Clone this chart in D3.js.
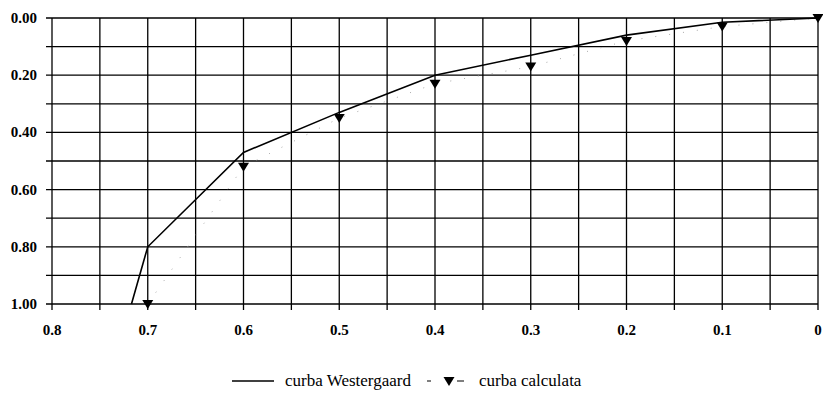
<!DOCTYPE html>
<html>
<head>
<meta charset="utf-8">
<script src="https://cdn.jsdelivr.net/npm/d3@7"></script>
<style>
  html, body { margin: 0; padding: 0; background: #fff; }
  svg { display: block; }
</style>
</head>
<body>
<svg id="chart" width="823" height="412"></svg>
<script>
// Westergaard curve (x = relative stress, y = depth ratio)
const westX = [0.717, 0.7, 0.6, 0.5, 0.4, 0.3, 0.2, 0.1, 0];
const westY = [1.0, 0.80, 0.47, 0.33, 0.20, 0.13, 0.06, 0.015, 0];

// Calculated curve
const calcX = [0.7, 0.6, 0.5, 0.4, 0.3, 0.2, 0.1, 0];
const calcY = [1.0, 0.52, 0.35, 0.23, 0.17, 0.08, 0.03, 0.0];

// Axis ticks and labels
const xTicks = [0.8, 0.7, 0.6, 0.5, 0.4, 0.3, 0.2, 0.1, 0];
const xLabels = ["0.8", "0.7", "0.6", "0.5", "0.4", "0.3", "0.2", "0.1", "0"];
const xGrid = [0.8, 0.75, 0.7, 0.65, 0.6, 0.55, 0.5, 0.45, 0.4, 0.35, 0.3, 0.25, 0.2, 0.15, 0.1, 0.05, 0];
const yTicks = [0, 0.2, 0.4, 0.6, 0.8, 1.0];
const yLabels = ["0.00", "0.20", "0.40", "0.60", "0.80", "1.00"];
const yGrid = [0, 0.1, 0.2, 0.3, 0.4, 0.5, 0.6, 0.7, 0.8, 0.9, 1.0];

const legendNames = ["curba Westergaard", "curba calculata"];

const svg = d3.select("#chart");
const plotLeft = 52, plotRight = 818, plotTop = 18, plotBottom = 304;

const x = d3.scaleLinear().domain([0.8, 0]).range([plotLeft, plotRight]);
const y = d3.scaleLinear().domain([0, 1]).range([plotTop, plotBottom]);

const serif = '"Liberation Serif", "Times New Roman", serif';

// grid
const grid = svg.append("g").attr("stroke", "#000").attr("stroke-width", 1.3);
grid.selectAll("line.v").data(xGrid).join("line")
  .attr("x1", d => x(d)).attr("x2", d => x(d))
  .attr("y1", plotTop).attr("y2", plotBottom + 6);
grid.selectAll("line.h").data(yGrid).join("line")
  .attr("x1", plotLeft - 6).attr("x2", plotRight)
  .attr("y1", d => y(d)).attr("y2", d => y(d));

// y labels
svg.append("g").selectAll("text").data(yTicks).join("text")
  .attr("x", 37).attr("y", d => y(d) + 5)
  .attr("text-anchor", "end")
  .style("font-family", serif).style("font-weight", "bold").style("font-size", "15px")
  .text((d, i) => yLabels[i]);

// x labels
svg.append("g").selectAll("text").data(xTicks).join("text")
  .attr("x", d => x(d)).attr("y", 335)
  .attr("text-anchor", "middle")
  .style("font-family", serif).style("font-weight", "bold").style("font-size", "15px")
  .text((d, i) => xLabels[i]);

// calculated curve: faint dotted connector
const calcPts = calcX.map((v, i) => [v, calcY[i]]);
svg.append("path")
  .datum(calcPts)
  .attr("fill", "none").attr("stroke", "#aaa").attr("stroke-width", 1)
  .attr("stroke-dasharray", "1,13")
  .attr("d", d3.line().x(d => x(d[0])).y(d => y(d[1])));

// Westergaard line
const westPts = westX.map((v, i) => [v, westY[i]]);
svg.append("path")
  .datum(westPts)
  .attr("fill", "none").attr("stroke", "#000").attr("stroke-width", 1.6)
  .attr("stroke-linejoin", "miter")
  .attr("d", d3.line().x(d => x(d[0])).y(d => y(d[1])));

// down-pointing triangle markers
const tri = (cx, cy) => `M${cx - 5.5},${cy - 4} L${cx + 5.5},${cy - 4} L${cx},${cy + 5} Z`;
svg.append("g").selectAll("path").data(calcPts).join("path")
  .attr("d", d => tri(x(d[0]), y(d[1])))
  .attr("fill", "#000");

// legend
const legendY = 381;
const lg = svg.append("g");
lg.append("line").attr("x1", 232).attr("x2", 274).attr("y1", legendY).attr("y2", legendY)
  .attr("stroke", "#000").attr("stroke-width", 1.3);
lg.append("text").attr("x", 285).attr("y", legendY + 5)
  .style("font-family", serif).style("font-size", "17px").text(legendNames[0]);
lg.append("line").attr("x1", 427).attr("x2", 464).attr("y1", legendY).attr("y2", legendY)
  .attr("stroke", "#000").attr("stroke-width", 1.2)
  .attr("stroke-dasharray", "4,26,7");
lg.append("path").attr("d", tri(449, legendY)).attr("fill", "#000");
lg.append("text").attr("x", 479).attr("y", legendY + 5)
  .style("font-family", serif).style("font-size", "17px").text(legendNames[1]);
</script>
</body>
</html>
